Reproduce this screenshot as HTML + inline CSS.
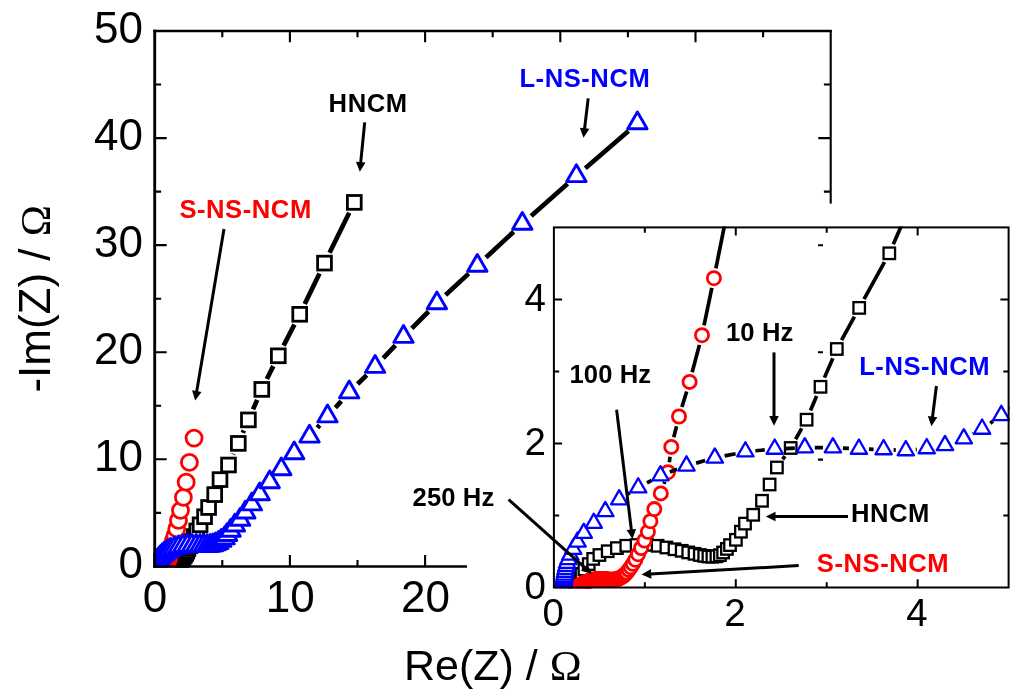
<!DOCTYPE html>
<html lang="en"><head><meta charset="utf-8"><title>Nyquist plot</title>
<style>html,body{margin:0;padding:0;background:#fff}body{width:1024px;height:694px;overflow:hidden}svg{display:block}</style></head>
<body>
<svg width="1024" height="694" viewBox="0 0 1024 694">
<rect width="1024" height="694" fill="#fff"/>
<defs><clipPath id="cm"><rect x="153.4" y="30" width="680" height="537.5"/></clipPath><clipPath id="ci"><rect x="552.9" y="226.6" width="456.8" height="361.7"/></clipPath></defs>
<g clip-path="url(#cm)">
<path d="M349.23 212.72L329.57 252.78M319.49 273.45L304.71 303.95M294.43 324.52L283.57 345.58M273.23 366.12L266.87 379.08M257.17 399.93L253.03 409.37M243.86 430.47L242.84 432.83M233.55 453.87L233.25 454.53" stroke="#000" stroke-width="4.7" stroke-linecap="butt" fill="none"/>
<g fill="#fff" stroke="#000" stroke-width="2.8"><rect x="151.23" y="559.28" width="13.8" height="13.8"/><rect x="151.38" y="558.68" width="13.8" height="13.8"/><rect x="151.61" y="558.09" width="13.8" height="13.8"/><rect x="151.9" y="557.49" width="13.8" height="13.8"/><rect x="152.33" y="556.81" width="13.8" height="13.8"/><rect x="152.98" y="556.02" width="13.8" height="13.8"/><rect x="153.64" y="555.25" width="13.8" height="13.8"/><rect x="154.56" y="554.67" width="13.8" height="13.8"/><rect x="155.8" y="554.11" width="13.8" height="13.8"/><rect x="157.17" y="553.64" width="13.8" height="13.8"/><rect x="158.56" y="553.29" width="13.8" height="13.8"/><rect x="160.09" y="553.18" width="13.8" height="13.8"/><rect x="161.63" y="553.15" width="13.8" height="13.8"/><rect x="163.22" y="553.3" width="13.8" height="13.8"/><rect x="164.53" y="553.55" width="13.8" height="13.8"/><rect x="165.73" y="553.81" width="13.8" height="13.8"/><rect x="166.8" y="554.04" width="13.8" height="13.8"/><rect x="167.77" y="554.28" width="13.8" height="13.8"/><rect x="168.7" y="554.49" width="13.8" height="13.8"/><rect x="169.49" y="554.67" width="13.8" height="13.8"/><rect x="170.15" y="554.8" width="13.8" height="13.8"/><rect x="170.77" y="554.89" width="13.8" height="13.8"/><rect x="171.36" y="554.92" width="13.8" height="13.8"/><rect x="171.96" y="554.86" width="13.8" height="13.8"/><rect x="172.48" y="554.7" width="13.8" height="13.8"/><rect x="172.95" y="554.3" width="13.8" height="13.8"/><rect x="173.52" y="553.76" width="13.8" height="13.8"/><rect x="173.98" y="553.2" width="13.8" height="13.8"/><rect x="174.86" y="552.41" width="13.8" height="13.8"/><rect x="175.6" y="551.2" width="13.8" height="13.8"/><rect x="176.21" y="550" width="13.8" height="13.8"/><rect x="177.43" y="548.69" width="13.8" height="13.8"/><rect x="178.74" y="546.61" width="13.8" height="13.8"/><rect x="179.87" y="544.19" width="13.8" height="13.8"/><rect x="180.95" y="541.66" width="13.8" height="13.8"/><rect x="183" y="538.76" width="13.8" height="13.8"/><rect x="185.37" y="534.55" width="13.8" height="13.8"/><rect x="187.44" y="529.66" width="13.8" height="13.8"/><rect x="189.86" y="524.04" width="13.8" height="13.8"/><rect x="193.19" y="517.93" width="13.8" height="13.8"/><rect x="197.66" y="509.81" width="13.8" height="13.8"/><rect x="201.7" y="500.6" width="13.8" height="13.8"/><rect x="207.8" y="487.7" width="13.8" height="13.8"/><rect x="213.1" y="472.7" width="13.8" height="13.8"/><rect x="221.6" y="458.1" width="13.8" height="13.8"/><rect x="231.4" y="436.5" width="13.8" height="13.8"/><rect x="241.5" y="413" width="13.8" height="13.8"/><rect x="254.9" y="382.5" width="13.8" height="13.8"/><rect x="271.4" y="348.9" width="13.8" height="13.8"/><rect x="292.8" y="307.4" width="13.8" height="13.8"/><rect x="317.6" y="256.2" width="13.8" height="13.8"/><rect x="347.4" y="195.5" width="13.8" height="13.8"/></g>
<path d="" stroke="#000" stroke-width="4.7" stroke-linecap="butt" fill="none"/>
<g fill="#fff" stroke="#f00" stroke-width="2.8"><circle cx="157.78" cy="566.56" r="8"/><circle cx="157.91" cy="566.48" r="8"/><circle cx="158.03" cy="566.39" r="8"/><circle cx="158.16" cy="566.31" r="8"/><circle cx="158.28" cy="566.24" r="8"/><circle cx="158.41" cy="566.17" r="8"/><circle cx="158.54" cy="566.09" r="8"/><circle cx="158.67" cy="566.02" r="8"/><circle cx="158.8" cy="565.94" r="8"/><circle cx="158.93" cy="565.87" r="8"/><circle cx="159.06" cy="565.8" r="8"/><circle cx="159.19" cy="565.73" r="8"/><circle cx="159.32" cy="565.66" r="8"/><circle cx="159.46" cy="565.6" r="8"/><circle cx="159.6" cy="565.55" r="8"/><circle cx="159.74" cy="565.49" r="8"/><circle cx="159.87" cy="565.44" r="8"/><circle cx="160.01" cy="565.38" r="8"/><circle cx="160.15" cy="565.34" r="8"/><circle cx="160.3" cy="565.3" r="8"/><circle cx="160.44" cy="565.27" r="8"/><circle cx="160.59" cy="565.23" r="8"/><circle cx="160.73" cy="565.2" r="8"/><circle cx="160.88" cy="565.18" r="8"/><circle cx="161.03" cy="565.16" r="8"/><circle cx="161.17" cy="565.15" r="8"/><circle cx="161.32" cy="565.14" r="8"/><circle cx="161.47" cy="565.13" r="8"/><circle cx="161.62" cy="565.13" r="8"/><circle cx="161.77" cy="565.13" r="8"/><circle cx="161.92" cy="565.14" r="8"/><circle cx="162.06" cy="565.15" r="8"/><circle cx="162.21" cy="565.16" r="8"/><circle cx="162.36" cy="565.17" r="8"/><circle cx="162.51" cy="565.19" r="8"/><circle cx="162.66" cy="565.2" r="8"/><circle cx="162.82" cy="565.22" r="8"/><circle cx="162.99" cy="565.24" r="8"/><circle cx="163.16" cy="565.25" r="8"/><circle cx="163.35" cy="565.24" r="8"/><circle cx="163.55" cy="565.23" r="8"/><circle cx="163.75" cy="565.21" r="8"/><circle cx="163.97" cy="565.18" r="8"/><circle cx="164.19" cy="565.12" r="8"/><circle cx="164.42" cy="565.04" r="8"/><circle cx="164.64" cy="564.92" r="8"/><circle cx="164.87" cy="564.79" r="8"/><circle cx="165.1" cy="564.62" r="8"/><circle cx="165.31" cy="564.42" r="8"/><circle cx="165.52" cy="564.18" r="8"/><circle cx="165.84" cy="563.78" r="8"/><circle cx="166.13" cy="563.38" r="8"/><circle cx="166.44" cy="562.88" r="8"/><circle cx="166.82" cy="562.27" r="8"/><circle cx="167.22" cy="561.45" r="8"/><circle cx="167.66" cy="560.53" r="8"/><circle cx="168.17" cy="559.41" r="8"/><circle cx="168.67" cy="558.12" r="8"/><circle cx="169.05" cy="556.54" r="8"/><circle cx="169.63" cy="554.74" r="8"/><circle cx="170.59" cy="552.41" r="8"/><circle cx="171.66" cy="549.26" r="8"/><circle cx="172.15" cy="545.5" r="8"/><circle cx="173.3" cy="540.98" r="8"/><circle cx="174.87" cy="535.83" r="8"/><circle cx="176.72" cy="528.89" r="8"/><circle cx="178.49" cy="520.41" r="8"/><circle cx="180.5" cy="510.4" r="8"/><circle cx="183.4" cy="497.4" r="8"/><circle cx="186.2" cy="482.2" r="8"/><circle cx="189.4" cy="462.4" r="8"/><circle cx="194.06" cy="438.1" r="8"/></g>
<path d="M628.48 130.92L585.32 168.28M567.55 183.8L531.15 215.9M513.66 231.74L485.94 257.56M468.65 273.63L445.55 295.07M428.59 311.48L411.81 328.42M395.39 345.37L383.21 358.23M366.69 375.08L357.61 384.02M341.29 401.05L335.41 407.55M319.65 425.11L317.35 427.69" stroke="#000" stroke-width="4.7" stroke-linecap="butt" fill="none"/>
<g fill="#fff" stroke="#00f" stroke-width="2.9" stroke-linejoin="round"><path d="M156.13 554.61L165.83 571.41L146.43 571.41Z"/><path d="M156.14 554.47L165.84 571.27L146.44 571.27Z"/><path d="M156.16 554.32L165.86 571.12L146.46 571.12Z"/><path d="M156.17 554.14L165.87 570.94L146.47 570.94Z"/><path d="M156.2 553.91L165.9 570.71L146.5 570.71Z"/><path d="M156.23 553.65L165.93 570.45L146.53 570.45Z"/><path d="M156.28 553.32L165.98 570.12L146.58 570.12Z"/><path d="M156.35 552.92L166.05 569.72L146.65 569.72Z"/><path d="M156.42 552.52L166.12 569.32L146.72 569.32Z"/><path d="M156.53 552.04L166.23 568.84L146.83 568.84Z"/><path d="M156.65 551.57L166.35 568.37L146.95 568.37Z"/><path d="M156.86 551.01L166.56 567.81L147.16 567.81Z"/><path d="M157.14 550.36L166.84 567.16L147.44 567.16Z"/><path d="M157.57 549.48L167.27 566.28L147.87 566.28Z"/><path d="M158.22 548.41L167.92 565.21L148.52 565.21Z"/><path d="M159.15 547.11L168.85 563.91L149.45 563.91Z"/><path d="M160.63 545.62L170.33 562.42L150.93 562.42Z"/><path d="M162.34 543.89L172.04 560.69L152.64 560.69Z"/><path d="M164.41 542.13L174.11 558.93L154.71 558.93Z"/><path d="M167.23 540.36L176.93 557.16L157.53 557.16Z"/><path d="M170.55 538.56L180.25 555.36L160.85 555.36Z"/><path d="M174.41 537.11L184.11 553.91L164.71 553.91Z"/><path d="M178.62 535.93L188.32 552.73L168.92 552.73Z"/><path d="M183.17 535.01L192.87 551.81L173.47 551.81Z"/><path d="M187.53 534.61L197.23 551.41L177.83 551.41Z"/><path d="M192 534.4L201.7 551.2L182.3 551.2Z"/><path d="M196.18 534.4L205.88 551.2L186.48 551.2Z"/><path d="M200.04 534.61L209.74 551.41L190.34 551.41Z"/><path d="M203.72 534.68L213.42 551.48L194.02 551.48Z"/><path d="M207.02 534.83L216.72 551.63L197.32 551.63Z"/><path d="M210.12 534.53L219.82 551.33L200.42 551.33Z"/><path d="M212.84 534.07L222.54 550.87L203.14 550.87Z"/><path d="M215.64 533.06L225.34 549.86L205.94 549.86Z"/><path d="M218.36 531.63L228.06 548.43L208.66 548.43Z"/><path d="M221.21 529.6L230.91 546.4L211.51 546.4Z"/><path d="M224.6 527.1L234.3 543.9L214.9 543.9Z"/><path d="M227.1 523.7L236.8 540.5L217.4 540.5Z"/><path d="M230.6 519.4L240.3 536.2L220.9 536.2Z"/><path d="M234.9 514.2L244.6 531L225.2 531Z"/><path d="M240.1 508.5L249.8 525.3L230.4 525.3Z"/><path d="M245.3 501.2L255 518L235.6 518Z"/><path d="M251.9 493.1L261.6 509.9L242.2 509.9Z"/><path d="M259.7 483L269.4 499.8L250 499.8Z"/><path d="M269.7 471L279.4 487.8L260 487.8Z"/><path d="M281.3 458L291 474.8L271.6 474.8Z"/><path d="M294.2 441.9L303.9 458.7L284.5 458.7Z"/><path d="M309.5 425.3L319.2 442.1L299.8 442.1Z"/><path d="M327.5 405.1L337.2 421.9L317.8 421.9Z"/><path d="M349.2 381.1L358.9 397.9L339.5 397.9Z"/><path d="M375.1 355.6L384.8 372.4L365.4 372.4Z"/><path d="M403.5 325.6L413.2 342.4L393.8 342.4Z"/><path d="M436.9 291.9L446.6 308.7L427.2 308.7Z"/><path d="M477.3 254.4L487 271.2L467.6 271.2Z"/><path d="M522.3 212.5L532 229.3L512.6 229.3Z"/><path d="M576.4 164.8L586.1 181.6L566.7 181.6Z"/><path d="M637.4 112L647.1 128.8L627.7 128.8Z"/></g>
</g>
<g stroke="#000" fill="none" stroke-width="2.9" stroke-linecap="butt">
<path d="M154.7 567.6V29.8"/>
</g>
<g stroke="#000" fill="none" stroke-width="2.1">
<path d="M153.3 31H831.8" stroke-width="2.3"/>
<path d="M830.7 30V203.6"/>
<path d="M153.4 566.5H467" stroke-width="2.4"/>
<path d="M154.7 512.86h6.4M222.3 31v6.3M222.3 566.4v-6.3M154.7 459.32h12M289.9 31v11.3M289.9 566.4v-11.3M154.7 405.78h6.4M357.5 31v6.3M357.5 566.4v-6.3M154.7 352.24h12M425.1 31v11.3M425.1 566.4v-11.3M154.7 298.7h6.4M492.7 31v6.3M154.7 245.16h12M560.3 31v11.3M154.7 191.62h6.4M830.7 191.62h-6.8M627.9 31v6.3M154.7 138.08h12M830.7 138.08h-12.4M695.5 31v11.3M154.7 84.54h6.4M830.7 84.54h-6.8M763.1 31v6.3"/>
<path d="M818 245.3h5M818 352.3h5M818 459.6h5"/>
</g>
<g font-family="'Liberation Sans', Arial, sans-serif" font-size="44" fill="#000">
<text x="142.9" y="578.2" text-anchor="end">0</text>
<text x="142.9" y="471.12" text-anchor="end">10</text>
<text x="142.9" y="364.04" text-anchor="end">20</text>
<text x="142.9" y="256.96" text-anchor="end">30</text>
<text x="142.9" y="149.88" text-anchor="end">40</text>
<text x="142.9" y="42.8" text-anchor="end">50</text>
<text x="155.1" y="611.8" text-anchor="middle">0</text>
<text x="290.3" y="611.8" text-anchor="middle">10</text>
<text x="425.5" y="611.8" text-anchor="middle">20</text>
<text x="404" y="679.8" font-size="43">Re(Z) / <tspan font-family="'Liberation Serif', serif" font-size="43">Ω</tspan></text>
<text transform="translate(49.6 392.6) rotate(-90)" font-size="44">-Im(Z) / <tspan font-family="'Liberation Serif', serif" font-size="42">Ω</tspan></text>
</g>
<g clip-path="url(#ci)">
<path d="M953.2 113.63L920.72 182.31M912.44 200.51L893.31 244.14M884.47 262.06L864.03 299.14M854.41 316.68L841.59 340.22M832.84 358.18L824.46 377.62M816.61 396.01L810.49 410.49M801.7 428.42L795.6 439.28M784.92 456.16L782.68 459.34" stroke="#000" stroke-width="3.7" stroke-linecap="butt" fill="none"/>
<g fill="#fff" stroke="#000" stroke-width="2.3"><rect x="571.25" y="580.25" width="11.5" height="11.5"/><rect x="572.25" y="576.25" width="11.5" height="11.5"/><rect x="573.75" y="572.25" width="11.5" height="11.5"/><rect x="575.75" y="568.25" width="11.5" height="11.5"/><rect x="578.65" y="563.65" width="11.5" height="11.5"/><rect x="583" y="558.35" width="11.5" height="11.5"/><rect x="587.45" y="553.15" width="11.5" height="11.5"/><rect x="593.65" y="549.25" width="11.5" height="11.5"/><rect x="601.95" y="545.5" width="11.5" height="11.5"/><rect x="611.15" y="542.35" width="11.5" height="11.5"/><rect x="620.55" y="540" width="11.5" height="11.5"/><rect x="630.85" y="539.25" width="11.5" height="11.5"/><rect x="641.15" y="539.05" width="11.5" height="11.5"/><rect x="651.85" y="540.05" width="11.5" height="11.5"/><rect x="660.65" y="541.75" width="11.5" height="11.5"/><rect x="668.75" y="543.5" width="11.5" height="11.5"/><rect x="675.95" y="545.05" width="11.5" height="11.5"/><rect x="682.5" y="546.65" width="11.5" height="11.5"/><rect x="688.75" y="548.05" width="11.5" height="11.5"/><rect x="694.05" y="549.25" width="11.5" height="11.5"/><rect x="698.45" y="550.15" width="11.5" height="11.5"/><rect x="702.65" y="550.75" width="11.5" height="11.5"/><rect x="706.65" y="550.95" width="11.5" height="11.5"/><rect x="710.65" y="550.55" width="11.5" height="11.5"/><rect x="714.15" y="549.45" width="11.5" height="11.5"/><rect x="717.35" y="546.75" width="11.5" height="11.5"/><rect x="721.15" y="543.15" width="11.5" height="11.5"/><rect x="724.25" y="539.35" width="11.5" height="11.5"/><rect x="730.15" y="534.05" width="11.5" height="11.5"/><rect x="735.15" y="525.95" width="11.5" height="11.5"/><rect x="739.25" y="517.85" width="11.5" height="11.5"/><rect x="747.45" y="509.05" width="11.5" height="11.5"/><rect x="756.25" y="495.05" width="11.5" height="11.5"/><rect x="763.85" y="478.75" width="11.5" height="11.5"/><rect x="771.15" y="461.75" width="11.5" height="11.5"/><rect x="784.95" y="442.25" width="11.5" height="11.5"/><rect x="800.85" y="413.95" width="11.5" height="11.5"/><rect x="814.75" y="381.05" width="11.5" height="11.5"/><rect x="831.05" y="343.25" width="11.5" height="11.5"/><rect x="853.45" y="302.15" width="11.5" height="11.5"/><rect x="883.55" y="247.55" width="11.5" height="11.5"/><rect x="910.7" y="185.6" width="11.5" height="11.5"/><rect x="951.73" y="98.84" width="11.5" height="11.5"/></g>
<path d="M744.77 133.18L729.62 201.09M725.47 220.66L715.87 268.4M711.86 287.99L704.04 325.41M699.43 344.87L692.17 372.23M686.67 391.46L681.93 406.94M676.54 426.19L673.76 437.21M670.01 456.82L669.29 462.28M664.78 481.67L664.02 483.93" stroke="#000" stroke-width="3.7" stroke-linecap="butt" fill="none"/>
<g fill="#fff" stroke="#f00" stroke-width="2.8"><circle cx="574.64" cy="588.57" r="6.6"/><circle cx="575.47" cy="588.02" r="6.6"/><circle cx="576.3" cy="587.46" r="6.6"/><circle cx="577.14" cy="586.92" r="6.6"/><circle cx="578.01" cy="586.42" r="6.6"/><circle cx="578.87" cy="585.92" r="6.6"/><circle cx="579.74" cy="585.42" r="6.6"/><circle cx="580.61" cy="584.93" r="6.6"/><circle cx="581.48" cy="584.44" r="6.6"/><circle cx="582.36" cy="583.95" r="6.6"/><circle cx="583.23" cy="583.47" r="6.6"/><circle cx="584.11" cy="582.99" r="6.6"/><circle cx="584.99" cy="582.51" r="6.6"/><circle cx="585.91" cy="582.13" r="6.6"/><circle cx="586.84" cy="581.76" r="6.6"/><circle cx="587.77" cy="581.39" r="6.6"/><circle cx="588.7" cy="581.02" r="6.6"/><circle cx="589.63" cy="580.65" r="6.6"/><circle cx="590.58" cy="580.36" r="6.6"/><circle cx="591.55" cy="580.13" r="6.6"/><circle cx="592.53" cy="579.89" r="6.6"/><circle cx="593.5" cy="579.66" r="6.6"/><circle cx="594.47" cy="579.43" r="6.6"/><circle cx="595.45" cy="579.26" r="6.6"/><circle cx="596.45" cy="579.18" r="6.6"/><circle cx="597.45" cy="579.1" r="6.6"/><circle cx="598.44" cy="579.02" r="6.6"/><circle cx="599.44" cy="578.94" r="6.6"/><circle cx="600.44" cy="578.93" r="6.6"/><circle cx="601.44" cy="578.99" r="6.6"/><circle cx="602.44" cy="579.05" r="6.6"/><circle cx="603.43" cy="579.11" r="6.6"/><circle cx="604.43" cy="579.17" r="6.6"/><circle cx="605.43" cy="579.24" r="6.6"/><circle cx="606.42" cy="579.34" r="6.6"/><circle cx="607.44" cy="579.44" r="6.6"/><circle cx="608.52" cy="579.55" r="6.6"/><circle cx="609.64" cy="579.66" r="6.6"/><circle cx="610.83" cy="579.78" r="6.6"/><circle cx="612.09" cy="579.71" r="6.6"/><circle cx="613.41" cy="579.61" r="6.6"/><circle cx="614.79" cy="579.5" r="6.6"/><circle cx="616.25" cy="579.33" r="6.6"/><circle cx="617.72" cy="578.88" r="6.6"/><circle cx="619.26" cy="578.36" r="6.6"/><circle cx="620.77" cy="577.56" r="6.6"/><circle cx="622.32" cy="576.65" r="6.6"/><circle cx="623.82" cy="575.5" r="6.6"/><circle cx="625.28" cy="574.15" r="6.6"/><circle cx="626.7" cy="572.6" r="6.6"/><circle cx="628.8" cy="569.9" r="6.6"/><circle cx="630.8" cy="567.2" r="6.6"/><circle cx="632.9" cy="563.8" r="6.6"/><circle cx="635.4" cy="559.7" r="6.6"/><circle cx="638.1" cy="554.2" r="6.6"/><circle cx="641.1" cy="548" r="6.6"/><circle cx="644.5" cy="540.5" r="6.6"/><circle cx="647.9" cy="531.8" r="6.6"/><circle cx="650.4" cy="521.2" r="6.6"/><circle cx="654.3" cy="509.1" r="6.6"/><circle cx="660.8" cy="493.4" r="6.6"/><circle cx="668" cy="472.2" r="6.6"/><circle cx="671.3" cy="446.9" r="6.6"/><circle cx="679" cy="416.5" r="6.6"/><circle cx="689.6" cy="381.9" r="6.6"/><circle cx="702" cy="335.2" r="6.6"/><circle cx="713.9" cy="278.2" r="6.6"/><circle cx="727.44" cy="210.85" r="6.6"/><circle cx="746.95" cy="123.42" r="6.6"/></g>
<path d="M1121.59 280.79L1100.09 304.35M1086.98 319.45L1070.8 339.01M1058.12 354.47L1047.2 367.88M1034.96 383.69L1029.99 390.45M1016.02 404.44L1009.35 409.36M993.16 421.11L990.24 423.19M973.24 433.65L972.66 433.95M916.75 449.45L915.75 449.55M895.81 450.05L893.59 449.95M873.6 449.3L868.9 449.2M848.91 448.46L842.89 448.14M822.9 447.6L814.8 447.6M794.81 448.06L784.69 448.54M764.74 449.92L755.36 450.78M735.6 453.69L724.6 455.91M705.17 460.59L696.13 463.11M677.14 469.33L669.86 472.07M651.71 480.37L646.99 482.93M629.73 493.01L627.67 494.29" stroke="#000" stroke-width="3.7" stroke-linecap="butt" fill="none"/>
<g fill="#fff" stroke="#00f" stroke-width="2.3" stroke-linejoin="round"><path d="M563.5 574.03L571.65 588.23L555.35 588.23Z"/><path d="M563.6 573.13L571.75 587.33L555.45 587.33Z"/><path d="M563.7 572.08L571.85 586.28L555.55 586.28Z"/><path d="M563.8 570.88L571.95 585.08L555.65 585.08Z"/><path d="M564 569.38L572.15 583.58L555.85 583.58Z"/><path d="M564.2 567.58L572.35 581.78L556.05 581.78Z"/><path d="M564.5 565.38L572.65 579.58L556.35 579.58Z"/><path d="M565 562.68L573.15 576.88L556.85 576.88Z"/><path d="M565.5 559.98L573.65 574.18L557.35 574.18Z"/><path d="M566.2 556.78L574.35 570.98L558.05 570.98Z"/><path d="M567 553.63L575.15 567.83L558.85 567.83Z"/><path d="M568.4 549.88L576.55 564.08L560.25 564.08Z"/><path d="M570.3 545.48L578.45 559.68L562.15 559.68Z"/><path d="M573.2 539.58L581.35 553.78L565.05 553.78Z"/><path d="M577.6 532.38L585.75 546.58L569.45 546.58Z"/><path d="M583.8 523.63L591.95 537.83L575.65 537.83Z"/><path d="M593.8 513.63L601.95 527.83L585.65 527.83Z"/><path d="M605.3 501.93L613.45 516.13L597.15 516.13Z"/><path d="M619.2 490.13L627.35 504.33L611.05 504.33Z"/><path d="M638.2 478.23L646.35 492.43L630.05 492.43Z"/><path d="M660.5 466.13L668.65 480.33L652.35 480.33Z"/><path d="M686.5 456.33L694.65 470.53L678.35 470.53Z"/><path d="M714.8 448.43L722.95 462.63L706.65 462.63Z"/><path d="M745.4 442.23L753.55 456.43L737.25 456.43Z"/><path d="M774.7 439.53L782.85 453.73L766.55 453.73Z"/><path d="M804.8 438.13L812.95 452.33L796.65 452.33Z"/><path d="M832.9 438.13L841.05 452.33L824.75 452.33Z"/><path d="M858.9 439.53L867.05 453.73L850.75 453.73Z"/><path d="M883.6 440.03L891.75 454.23L875.45 454.23Z"/><path d="M905.8 441.03L913.95 455.23L897.65 455.23Z"/><path d="M926.7 439.03L934.85 453.23L918.55 453.23Z"/><path d="M945 435.93L953.15 450.13L936.85 450.13Z"/><path d="M963.8 429.13L971.95 443.33L955.65 443.33Z"/><path d="M982.1 419.53L990.25 433.73L973.95 433.73Z"/><path d="M1001.3 405.83L1009.45 420.03L993.15 420.03Z"/><path d="M1024.07 389.04L1032.22 403.24L1015.92 403.24Z"/><path d="M1040.89 366.17L1049.04 380.37L1032.74 380.37Z"/><path d="M1064.43 337.25L1072.58 351.45L1056.28 351.45Z"/><path d="M1093.35 302.28L1101.5 316.48L1085.2 316.48Z"/><path d="M1128.33 263.94L1136.48 278.14L1120.18 278.14Z"/></g>
</g>
<g stroke="#000" fill="none" stroke-width="2">
<rect x="553.9" y="227.4" width="454.7" height="360.1"/>
<path d="M644.84 227.4v5.3M644.84 587.5v-5.3M553.9 515.48h5.3M1008.6 515.48h-5.3M735.78 227.4v8.2M735.78 587.5v-8.2M553.9 443.46h8.2M1008.6 443.46h-8.2M826.72 227.4v5.3M826.72 587.5v-5.3M553.9 371.44h5.3M1008.6 371.44h-5.3M917.66 227.4v8.2M917.66 587.5v-8.2M553.9 299.42h8.2M1008.6 299.42h-8.2"/>
</g>
<g font-family="'Liberation Sans', Arial, sans-serif" font-size="38.5" fill="#000">
<text x="546" y="598.9" text-anchor="end">0</text>
<text x="553.1" y="625.8" text-anchor="middle">0</text>
<text x="546" y="454.86" text-anchor="end">2</text>
<text x="734.98" y="625.8" text-anchor="middle">2</text>
<text x="546" y="310.82" text-anchor="end">4</text>
<text x="916.86" y="625.8" text-anchor="middle">4</text>
</g>
<g font-family="'Liberation Sans', Arial, sans-serif" font-size="25.6" font-weight="bold" letter-spacing="0.55">
<text x="328.6" y="111.5" fill="#000">HNCM</text>
<text x="179.4" y="218.2" fill="#f00">S-NS-NCM</text>
<text x="519.4" y="86.5" fill="#00f">L-NS-NCM</text>
<text x="726" y="341.3" fill="#000" letter-spacing="0.1">10 Hz</text>
<text x="569.5" y="383" fill="#000" letter-spacing="0.1">100 Hz</text>
<text x="412.6" y="505.6" fill="#000" letter-spacing="0.1">250 Hz</text>
<text x="859.2" y="374.8" fill="#00f">L-NS-NCM</text>
<text x="851" y="522" fill="#000">HNCM</text>
<text x="816.8" y="571.6" fill="#f00">S-NS-NCM</text>
</g>
<line x1="364.7" y1="122.4" x2="360.65" y2="163.14" stroke="#000" stroke-width="3"/><path d="M359.8 171.7L355.97 161.67L365.53 162.62Z" fill="#000"/>
<line x1="224" y1="229" x2="196.62" y2="392.12" stroke="#000" stroke-width="3"/><path d="M195.2 400.6L192.06 390.34L201.52 391.93Z" fill="#000"/>
<line x1="588.2" y1="98.4" x2="584.52" y2="129.26" stroke="#000" stroke-width="3"/><path d="M583.5 137.8L579.87 127.7L589.4 128.84Z" fill="#000"/>
<line x1="774" y1="352.4" x2="774" y2="417.1" stroke="#000" stroke-width="3"/><path d="M774 425.7L769.2 416.1L778.8 416.1Z" fill="#000"/>
<line x1="616.6" y1="409.8" x2="631.45" y2="530.46" stroke="#000" stroke-width="3"/><path d="M632.5 539L626.56 530.06L636.09 528.89Z" fill="#000"/>
<line x1="508.6" y1="499.5" x2="585.09" y2="567.96" stroke="#000" stroke-width="3"/><path d="M591.5 573.7L581.15 570.87L587.55 563.72Z" fill="#000"/>
<line x1="936.4" y1="386" x2="932.46" y2="417.67" stroke="#000" stroke-width="3"/><path d="M931.4 426.2L927.82 416.08L937.35 417.27Z" fill="#000"/>
<line x1="848" y1="516.5" x2="774.5" y2="516.5" stroke="#000" stroke-width="3"/><path d="M765.9 516.5L775.5 511.7L775.5 521.3Z" fill="#000"/>
<line x1="798.7" y1="565.6" x2="650.19" y2="573.92" stroke="#000" stroke-width="3"/><path d="M641.6 574.4L650.92 569.07L651.45 578.66Z" fill="#000"/>
</svg>
</body></html>
